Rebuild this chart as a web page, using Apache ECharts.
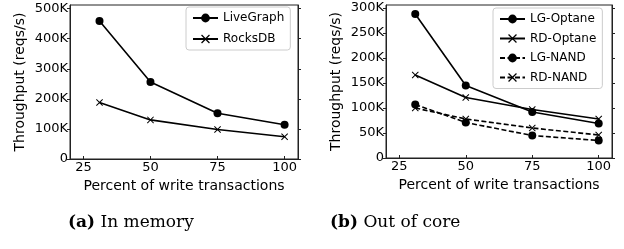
<!DOCTYPE html>
<html>
<head>
<meta charset="utf-8">
<script src="https://cdn.jsdelivr.net/npm/echarts@6/dist/echarts.min.js"></script>
<style>
  html, body { margin: 0; padding: 0; background: #fff; }
  #chart { width: 624px; height: 249px; }
</style>
</head>
<body>
<div id="chart"></div>
<script>
// percent of write transactions
const xPct = [31, 50, 75, 100]
const xTicks = [25, 50, 75, 100]

// (a) in memory
const liveGraph = [459000, 256000, 152000, 114000]
const rocksDB = [188000, 130000, 98000, 74000]
const yTicksA = [0, 100000, 200000, 300000, 400000, 500000]

// (b) out of core
const lgOptane = [288000, 145000, 92000, 69000]
const rdOptane = [166000, 121000, 97000, 78000]
const lgNand = [107000, 71000, 45000, 35000]
const rdNand = [100000, 78000, 60000, 46000]
const yTicksB = [0, 50000, 100000, 150000, 200000, 250000, 300000]

const FONT = 'DejaVu Sans'
const X_MARK = 'path://M0,1L1,0L5,4L9,0L10,1L6,5L10,9L9,10L5,6L1,10L0,9L4,5Z'

function pairs(ys) {
  return xPct.map((x, i) => [x, ys[i]])
}

function kFmt(v) {
  return v === 0 ? '0' : (v / 1000) + 'K'
}

function xAxis(idx) {
  return {
    type: 'value',
    gridIndex: idx,
    min: 20,
    max: 105,
    name: 'Percent of write transactions',
    nameLocation: 'middle',
    nameGap: 19,
    nameTextStyle: { fontFamily: FONT, fontSize: 14, color: '#000' },
    axisLine: { lineStyle: { color: '#222', width: 1 } },
    axisTick: { inside: true, length: 3, customValues: xTicks, lineStyle: { color: '#222' } },
    axisLabel: { customValues: xTicks, fontFamily: FONT, fontSize: 13, color: '#000', margin: 2 },
    splitLine: { show: false }
  }
}

function yAxis(idx, max, ticks, right) {
  return {
    type: 'value',
    gridIndex: idx,
    position: right ? 'right' : 'left',
    min: 0,
    max: max,
    name: right ? '' : 'Throughput (reqs/s)',
    nameLocation: 'middle',
    nameGap: 43,
    nameTextStyle: { fontFamily: FONT, fontSize: 14, color: '#000' },
    axisLine: { show: true, lineStyle: { color: '#222', width: 1 } },
    axisTick: { inside: false, length: 3, customValues: ticks, lineStyle: { color: '#222' } },
    axisLabel: {
      show: !right,
      customValues: ticks,
      formatter: kFmt,
      fontFamily: FONT, fontSize: 13, color: '#000', margin: 2
    },
    splitLine: { show: false }
  }
}

function line(name, ys, idx, mark, dashed) {
  return {
    name: name,
    type: 'line',
    xAxisIndex: idx,
    yAxisIndex: idx * 2,
    data: pairs(ys),
    symbol: mark === 'o' ? 'circle' : X_MARK,
    symbolSize: mark === 'o' ? 8 : 7,
    showSymbol: true,
    lineStyle: { color: '#000', width: 1.6, type: dashed ? [5, 2.5] : 'solid' },
    itemStyle: { color: '#000' },
    animation: false
  }
}

function legend(names, left, top, gap) {
  return {
    data: names,
    orient: 'vertical',
    left: left,
    top: top,
    itemWidth: 25,
    itemHeight: 11,
    itemGap: gap,
    padding: [5, 6, 5, 6],
    borderColor: '#ccc',
    borderWidth: 1,
    borderRadius: 3,
    backgroundColor: '#fff',
    textStyle: { fontFamily: FONT, fontSize: 12, color: '#000' }
  }
}

const chart = echarts.init(document.getElementById('chart'), null, { renderer: 'canvas' })
chart.setOption({
  animation: false,
  grid: [
    { left: 70, right: 326, top: 5, bottom: 90, show: true, borderColor: '#222', borderWidth: 1 },
    { left: 386, right: 12, top: 5, bottom: 91, show: true, borderColor: '#222', borderWidth: 1 }
  ],
  xAxis: [xAxis(0), xAxis(1)],
  yAxis: [
    yAxis(0, 512000, yTicksA, false),
    yAxis(0, 512000, yTicksA, true),
    yAxis(1, 306000, yTicksB, false),
    yAxis(1, 306000, yTicksB, true)
  ],
  legend: [
    legend(['LiveGraph', 'RocksDB'], 186, 7, 9),
    legend(['LG-Optane', 'RD-Optane', 'LG-NAND', 'RD-NAND'], 493, 8, 7.5)
  ],
  series: [
    line('LiveGraph', liveGraph, 0, 'o', false),
    line('RocksDB', rocksDB, 0, 'x', false),
    line('LG-Optane', lgOptane, 1, 'o', false),
    line('RD-Optane', rdOptane, 1, 'x', false),
    line('LG-NAND', lgNand, 1, 'o', true),
    line('RD-NAND', rdNand, 1, 'x', true)
  ],
  graphic: [
    {
      type: 'text', left: 68, top: 214,
      style: {
        text: '{b|(a)} In memory',
        font: '17px "DejaVu Serif"',
        fill: '#000',
        rich: { b: { fontWeight: 'bold', fontFamily: 'DejaVu Serif', fontSize: 17 } }
      }
    },
    {
      type: 'text', left: 330, top: 214,
      style: {
        text: '{b|(b)} Out of core',
        font: '17px "DejaVu Serif"',
        fill: '#000',
        rich: { b: { fontWeight: 'bold', fontFamily: 'DejaVu Serif', fontSize: 17 } }
      }
    }
  ]
})
</script>
</body>
</html>
